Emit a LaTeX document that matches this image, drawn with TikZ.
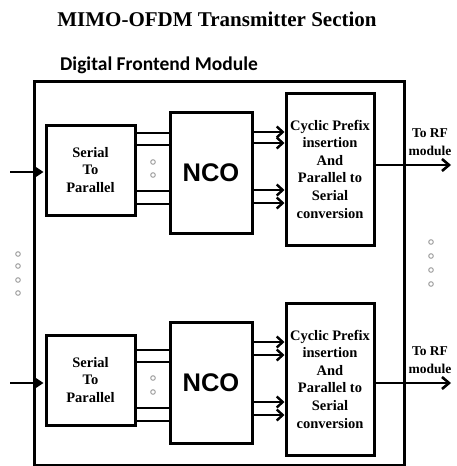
\documentclass[tikz,border=0pt]{standalone}
\usepackage{fontspec}
\setmainfont{Liberation Serif}
\newfontfamily\carl{Carlito}
\newfontfamily\arialf{Liberation Sans}
\usetikzlibrary{arrows.meta}
\begin{document}
\begin{tikzpicture}[x=1pt,y=-1pt,
  blk/.style={draw, line width=3pt, inner sep=0pt},
  lbl/.style={font=\bfseries\fontsize{14.5}{17.6}\selectfont, align=center},
  bus/.style={line width=2.6pt},
  busarrow/.style={line width=2.4pt, -{Straight Barb[length=6pt,width=11pt]}},
  inarrow/.style={line width=2.6pt, -{Triangle[length=8pt,width=10pt]}, shorten >=1pt},
  outarrow/.style={line width=2.6pt, -{Straight Barb[length=7pt,width=12pt]}},
  dotc/.style={draw=gray!80, line width=0.9pt, fill=white, circle, inner sep=0pt, minimum size=4.6pt}
]
\useasboundingbox (0,0) rectangle (456,466);
\node (title) at (217,19) {\fontsize{21}{24}\selectfont\bfseries MIMO-OFDM Transmitter Section};
\node (dfm) at (159,65) {\carl\bfseries\fontsize{19.5}{22}\selectfont Digital Frontend Module};
\node (frame) [draw, line width=3pt, minimum width=370pt, minimum height=384pt, anchor=north west] at (33,80) {};

\foreach \n/\dy/\ya/\yb/\yc/\yd/\aa/\ab/\ac/\ad/\da/\db/\yi/\yo in
  {a/0/133/145/191/204/132/143/190/203/162/175/172/165,
   b/210/350/362/408/421/342/355/402/415/378/392/383/383}{
  \node[blk, lbl, minimum width=89pt, minimum height=90pt] (s2p\n) at (90.5,170+\dy) {Serial\\To\\Parallel};
  \node[blk, minimum width=82pt, minimum height=121pt, font=\arialf\bfseries\fontsize{25.5}{28}\selectfont] (nco\n) at (211,172.5+\dy) {NCO};
  \node[blk, lbl, minimum width=88pt, minimum height=152pt] (cp\n) at (330,169+\dy) {Cyclic Prefix\\insertion\\And\\Parallel to\\Serial\\conversion};
  \foreach \y in {\ya,\yb,\yc,\yd}{
    \draw[bus] (s2p\n.east |- 0,\y) -- (nco\n.west |- 0,\y);
  }
  \foreach \y in {\aa,\ab,\ac,\ad}{
    \draw[busarrow] (nco\n.east |- 0,\y) -- (cp\n.west |- 0,\y);
  }
  \node[dotc] (bd1\n) at (153,\da) {};
  \node[dotc] (bd2\n) at (153,\db) {};
  \coordinate (in\n) at (10,\yi);
  \draw[inarrow] (in\n) -- (s2p\n.west |- in\n);
  \coordinate (out\n) at (451,\yo);
  \draw[outarrow] (cp\n.east |- out\n) -- (out\n);
  \node[font=\bfseries\fontsize{13.5}{18}\selectfont, align=center] (rf\n) at (430,\yo-23) {To RF\\module};
}
\foreach \i/\y in {1/254,2/266,3/280,4/293}{
  \node[dotc] (ld\i) at (18,\y) {};
}
\foreach \i/\y in {1/242,2/256,3/270,4/284}{
  \node[dotc] (rd\i) at (431,\y) {};
}
\end{tikzpicture}
\end{document}
